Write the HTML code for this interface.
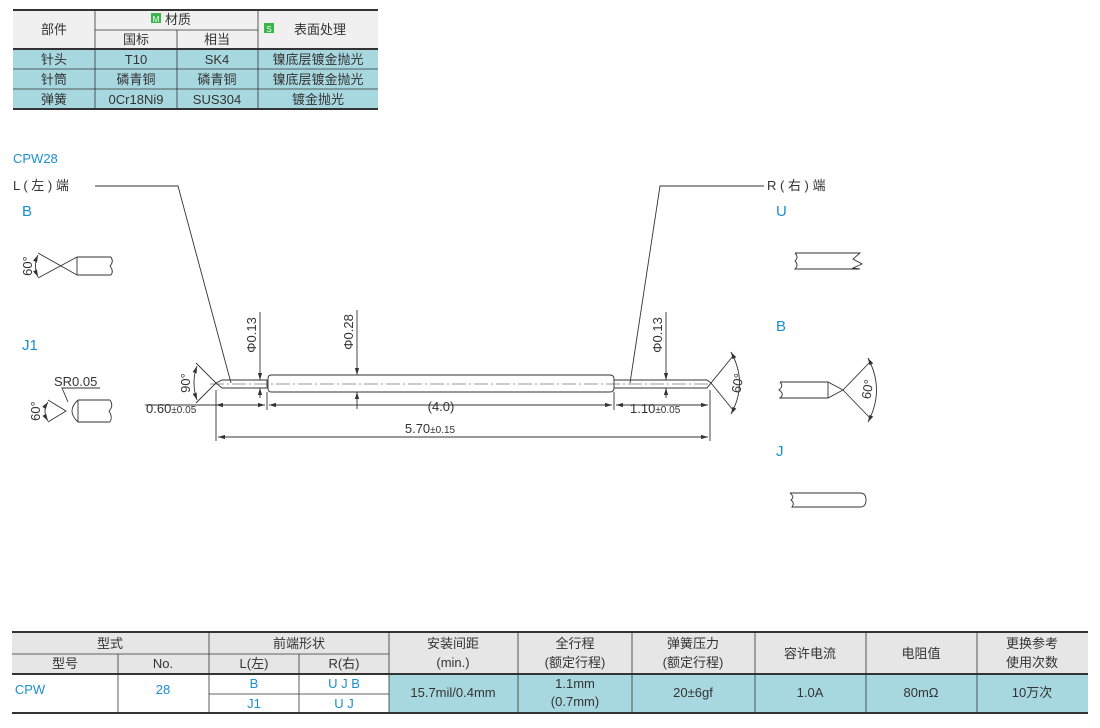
<!DOCTYPE html>
<html><head><meta charset="utf-8"><style>
body{margin:0;background:#fff;}
svg{display:block;font-family:"Liberation Sans","Noto Sans CJK SC",sans-serif;}
</style></head><body>
<svg width="1100" height="728" viewBox="0 0 1100 728">
<defs>
<marker id="a" viewBox="0 0 10 6" refX="10" refY="3" markerWidth="8" markerHeight="5" orient="auto-start-reverse"><path d="M0,0L10,3L0,6z" fill="#333"/></marker>
</defs>
<!-- top table -->
<g font-size="13" fill="#333" text-anchor="middle">
<rect x="13" y="49" width="365" height="60" fill="#a8d8df"/>
<rect x="13" y="11" width="365" height="38" fill="#f0f0f0"/>
<g stroke="#333" fill="none">
<line x1="13" y1="10" x2="378" y2="10" stroke-width="2"/>
<line x1="13" y1="49" x2="378" y2="49" stroke-width="2"/>
<line x1="13" y1="109" x2="378" y2="109" stroke-width="2"/>
<line x1="95" y1="30" x2="258" y2="30" stroke-width="0.8"/>
<line x1="13" y1="69" x2="378" y2="69" stroke-width="0.8"/>
<line x1="13" y1="89" x2="378" y2="89" stroke-width="0.8"/>
<line x1="95" y1="10" x2="95" y2="109" stroke-width="0.8"/>
<line x1="258" y1="10" x2="258" y2="109" stroke-width="0.8"/>
<line x1="177" y1="30" x2="177" y2="109" stroke-width="0.8"/>
</g>
<text x="54" y="34">部件</text>
<rect x="151" y="13" width="10" height="10" fill="#3bb54a"/><text x="156" y="22" font-size="8" fill="#fff">M</text>
<text x="178" y="24">材质</text>
<text x="136" y="44">国标</text><text x="217" y="44">相当</text>
<rect x="264" y="23" width="10" height="10" fill="#3bb54a"/><text x="269" y="32" font-size="8" fill="#fff">S</text>
<text x="320" y="34">表面处理</text>
<text x="54" y="64">针头</text><text x="136" y="64">T10</text><text x="217" y="64">SK4</text><text x="318" y="64">镍底层镀金抛光</text>
<text x="54" y="84">针筒</text><text x="136" y="84">磷青铜</text><text x="217" y="84">磷青铜</text><text x="318" y="84">镍底层镀金抛光</text>
<text x="54" y="104">弹簧</text><text x="136" y="104">0Cr18Ni9</text><text x="217" y="104">SUS304</text><text x="318" y="104">镀金抛光</text>
</g>
<!-- labels -->
<g font-size="13" fill="#1a8fcf">
<text x="13" y="163">CPW28</text>
<text x="22" y="216" font-size="15">B</text>
<text x="22" y="350" font-size="15">J1</text>
<text x="776" y="216" font-size="15">U</text>
<text x="776" y="331" font-size="15">B</text>
<text x="776" y="456" font-size="15">J</text>
</g>
<g font-size="13" fill="#333">
<text x="13" y="190">L ( 左 ) 端</text>
<text x="767" y="190">R ( 右 ) 端</text>
</g>
<g stroke="#333" stroke-width="0.9" fill="none">
<polyline points="95,186 178,186 231,383"/>
<polyline points="764,186 660,186 630,383"/>
<!-- B left -->
<path d="M38,253 L77,275 M38,278 L77,257 M77,257 L77,275 M77,257 L111,257 M77,275 L111,275"/>
<path d="M111,257 q3,5 -1,9 q4,5 1,9"/>
<path d="M38,255 q-5,11 0,22" marker-start="url(#a)" marker-end="url(#a)"/>
<!-- J1 -->
<path d="M48,400 L66,411 L48,422"/>
<path d="M78,400 q-12,11 0,22 M78,400 L110,400 M78,422 L110,422 M78,400 L78,422"/>
<path d="M110,400 q4,6 -1,11 q4,6 1,11"/>
<path d="M48,402 q-6,9 0,19" marker-start="url(#a)" marker-end="url(#a)"/>
<polyline points="100,388 62,388 68,402" />
<!-- main pin -->
<path d="M196,363 L216,383 L196,403"/>
<path d="M197,366 q-6,17 0,34" marker-start="url(#a)" marker-end="url(#a)"/>
<path d="M216,383 L222,380 L267,380 L267,388 L222,388 Z"/>
<path d="M271,375 L610,375 Q614,375 614,379 L614,388 Q614,392 610,392 L271,392 Q268,392 268,388 L268,379 Q268,375 271,375 Z"/>
<path d="M614,380 L707,380 L711,383 L707,388 L614,388"/>
<path d="M711,383 L733,356 M711,383 L733,410"/>
<path d="M731,352 q17,31 0,62" marker-start="url(#a)" marker-end="url(#a)"/>
<line x1="210" y1="384" x2="712" y2="384" stroke-dasharray="14,3,2,3" stroke-width="0.6"/>
<!-- dims -->
<line x1="216" y1="390" x2="216" y2="441"/>
<line x1="267" y1="392" x2="267" y2="410"/>
<line x1="614" y1="392" x2="614" y2="410"/>
<line x1="710" y1="390" x2="710" y2="441"/>
<line x1="145" y1="405" x2="216" y2="405"/>
<line x1="216" y1="405" x2="265" y2="405" marker-start="url(#a)" marker-end="url(#a)"/>
<line x1="269" y1="405" x2="612" y2="405" marker-start="url(#a)" marker-end="url(#a)"/>
<line x1="616" y1="405" x2="708" y2="405" marker-start="url(#a)" marker-end="url(#a)"/>
<line x1="218" y1="437" x2="708" y2="437" marker-start="url(#a)" marker-end="url(#a)"/>
<line x1="260" y1="312" x2="260" y2="380" marker-end="url(#a)"/>
<line x1="260" y1="398" x2="260" y2="388" marker-end="url(#a)"/>
<line x1="357" y1="310" x2="357" y2="375" marker-end="url(#a)"/>
<line x1="357" y1="409" x2="357" y2="392" marker-end="url(#a)"/>
<line x1="666" y1="312" x2="666" y2="380" marker-end="url(#a)"/>
<line x1="666" y1="398" x2="666" y2="388" marker-end="url(#a)"/>
<!-- U -->
<path d="M795,253 L860,253 L853,259 L862,264 L853,268 L860,269 L795,269 q4,-4 0,-8 q4,-4 0,-8"/>
<!-- B right -->
<path d="M780,382 L828,382 L843,390 L828,398 L780,398 q5,-4 -1,-8 q5,-4 1,-8 M828,382 L828,398"/>
<path d="M843,390 L870,362 M843,390 L870,418"/>
<path d="M868,358 q17,32 0,64" marker-start="url(#a)" marker-end="url(#a)"/>
<!-- J -->
<path d="M790,493 L860,493 q6,0 6,7 q0,7 -6,7 L792,507 q3,-4 -1,-7 q4,-3 -1,-7"/>
</g>
<g font-size="13" fill="#333">
<text transform="translate(32,266) rotate(-90)" text-anchor="middle">60°</text>
<text transform="translate(40,411) rotate(-90)" text-anchor="middle">60°</text>
<text x="54" y="386">SR0.05</text>
<text transform="translate(190,383) rotate(-90)" text-anchor="middle">90°</text>
<text x="146" y="413">0.60<tspan font-size="10">±0.05</tspan></text>
<text x="441" y="411" text-anchor="middle">(4.0)</text>
<text x="630" y="413">1.10<tspan font-size="10">±0.05</tspan></text>
<text x="430" y="433" text-anchor="middle">5.70<tspan font-size="10">±0.15</tspan></text>
<text transform="translate(256,335) rotate(-90)" text-anchor="middle">Φ0.13</text>
<text transform="translate(353,332) rotate(-90)" text-anchor="middle">Φ0.28</text>
<text transform="translate(662,335) rotate(-90)" text-anchor="middle">Φ0.13</text>
<text transform="translate(742,384) rotate(-80)" text-anchor="middle">60°</text>
<text transform="translate(872,390) rotate(-80)" text-anchor="middle">60°</text>
</g>
<!-- bottom table -->
<g font-size="13" fill="#333" text-anchor="middle">
<rect x="389" y="674" width="699" height="39" fill="#a8d8df"/>
<rect x="12" y="633" width="1076" height="41" fill="#e6e6e6"/>
<g stroke="#333" fill="none">
<line x1="12" y1="632" x2="1088" y2="632" stroke-width="2"/>
<line x1="12" y1="674" x2="1088" y2="674" stroke-width="2"/>
<line x1="12" y1="713" x2="1088" y2="713" stroke-width="2"/>
<line x1="12" y1="654" x2="389" y2="654" stroke-width="0.8"/>
<line x1="209" y1="694" x2="389" y2="694" stroke-width="0.8"/>
<line x1="118" y1="654" x2="118" y2="713" stroke-width="0.8"/>
<line x1="209" y1="632" x2="209" y2="713" stroke-width="0.8"/>
<line x1="299" y1="654" x2="299" y2="713" stroke-width="0.8"/>
<line x1="389" y1="632" x2="389" y2="713" stroke-width="0.8"/>
<line x1="518" y1="632" x2="518" y2="713" stroke-width="0.8"/>
<line x1="632" y1="632" x2="632" y2="713" stroke-width="0.8"/>
<line x1="755" y1="632" x2="755" y2="713" stroke-width="0.8"/>
<line x1="866" y1="632" x2="866" y2="713" stroke-width="0.8"/>
<line x1="977" y1="632" x2="977" y2="713" stroke-width="0.8"/>
</g>
<text x="110" y="648">型式</text><text x="299" y="648">前端形状</text>
<text x="65" y="668">型号</text><text x="163" y="668">No.</text>
<text x="254" y="668">L(左)</text><text x="344" y="668">R(右)</text>
<text x="453" y="648">安装间距</text><text x="453" y="667">(min.)</text>
<text x="575" y="648">全行程</text><text x="575" y="667">(额定行程)</text>
<text x="693" y="648">弹簧压力</text><text x="693" y="667">(额定行程)</text>
<text x="810" y="658">容许电流</text><text x="921" y="658">电阻值</text>
<text x="1032" y="648">更换参考</text><text x="1032" y="667">使用次数</text>
<g fill="#1a8fcf"><text x="30" y="694">CPW</text><text x="163" y="694">28</text>
<text x="254" y="688">B</text><text x="344" y="688">U J B</text>
<text x="254" y="708">J1</text><text x="344" y="708">U J</text></g>
<text x="453" y="697">15.7mil/0.4mm</text>
<text x="575" y="688">1.1mm</text><text x="575" y="706">(0.7mm)</text>
<text x="693" y="697">20±6gf</text><text x="810" y="697">1.0A</text>
<text x="921" y="697">80mΩ</text><text x="1032" y="697">10万次</text>
</g>
</svg>
</body></html>
